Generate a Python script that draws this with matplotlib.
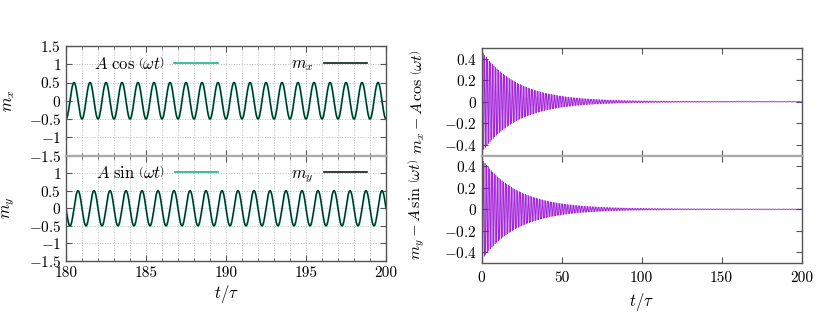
import numpy as np
import matplotlib
matplotlib.use("Agg")
import matplotlib.pyplot as plt
from matplotlib.ticker import MultipleLocator

plt.rcParams['font.family'] = 'serif'
plt.rcParams['font.serif'] = ['cmr10', 'DejaVu Serif']
plt.rcParams['mathtext.fontset'] = 'cm'
plt.rcParams['axes.formatter.use_mathtext'] = True
plt.rcParams['axes.unicode_minus'] = True

# values
amp = 0.5            # amplitude A of the driven response
period = 1.0         # period of the drive, in units of tau
phase_sign = -1.0    # m_x starts at -A at t=180
env0 = 0.47          # initial size of the transient difference
decay = 22.0         # decay time of the transient
t_zoom = [180, 200]  # left panels
t_full = [0, 200]    # right panels

left_yticks = [-1.5, -1, -0.5, 0, 0.5, 1, 1.5]
right_yticks = [-0.4, -0.2, 0, 0.2, 0.4]
left_xticks = [180, 185, 190, 195, 200]
right_xticks = [0, 50, 100, 150, 200]

teal = '#1db38a'
purple = '#9400d3'
frame = '#555555'
sep = '#aaaaaa'

w = 2 * np.pi / period
t1 = np.linspace(t_zoom[0], t_zoom[1], 4001)
ref_x = phase_sign * amp * np.cos(w * t1)
ref_y = phase_sign * amp * np.sin(w * t1)

t2 = np.linspace(t_full[0], t_full[1], 40001)
env = env0 * np.exp(-t2 / decay) + 0.004
dx = env * np.cos(w * 1.03 * t2)
dy = env * np.sin(w * 1.03 * t2)

fig = plt.figure(figsize=(8.3, 3.12), dpi=100)
W, H = 830, 312


def box(x0, y0, x1, y1):
    return [x0 / W, 1 - y1 / H, (x1 - x0) / W, (y1 - y0) / H]


axL1 = fig.add_axes(box(66, 46, 386, 155.5))
axL2 = fig.add_axes(box(66, 155.5, 386, 261))
axR1 = fig.add_axes(box(481.5, 48, 801.5, 155.5))
axR2 = fig.add_axes(box(481.5, 155.5, 801.5, 263))

for ax in (axL1, axL2, axR1, axR2):
    for s in ax.spines.values():
        s.set_color(frame)
        s.set_linewidth(1.0)
    ax.tick_params(direction='in', top=True, right=True, labelsize=11,
                   color=frame, length=4, width=0.8)
    ax.tick_params(which='minor', direction='in', top=True, right=True,
                   color=frame, length=2.5, width=0.6)

for ax in (axL1, axR1):
    ax.spines['bottom'].set_color(sep)
    ax.spines['bottom'].set_linewidth(1.6)
for ax in (axL2, axR2):
    ax.spines['top'].set_color(sep)
    ax.spines['top'].set_linewidth(1.6)

# left: m_x, m_y against the driving signal
for ax, ref, lab, fn in ((axL1, ref_x, r'$m_x$', r'$A\ \cos\,\left(\omega t\right)$'),
                         (axL2, ref_y, r'$m_y$', r'$A\ \sin\,\left(\omega t\right)$')):
    ax.plot(t1, ref, color=teal, lw=1.4, label=fn)
    ax.plot(t1, ref, color='#0c1f18', lw=0.8, label=lab)
    ax.set_xlim(t_zoom)
    ax.set_ylim(-1.5, 1.5)
    ax.set_yticks(left_yticks)
    ax.set_yticklabels(['$-1.5$', '$-1$', '$-0.5$', '$0$', '$0.5$', '$1$', '$1.5$'])
    ax.set_xticks(left_xticks)
    ax.xaxis.set_minor_locator(MultipleLocator(1))
    ax.grid(True, which='both', color='#bbbbbb', ls=':', lw=0.7)
    ax.set_axisbelow(True)
    ax.set_ylabel(lab, fontsize=12)
    ax.yaxis.set_label_coords(-0.152, 0.5)
    leg = ax.legend(ncol=2, loc='upper right', bbox_to_anchor=(0.9875, 1.05),
                    frameon=False, markerfirst=False, fontsize=12,
                    handlelength=2.6, handletextpad=0.6, columnspacing=4.4)
    for h in leg.get_lines():
        h.set_linewidth(1.2)

axL1.tick_params(labelbottom=False)
axL2.get_yticklabels()[-1].set_visible(False)
axL2.set_xticklabels([str(v) for v in left_xticks])
axL2.tick_params(axis='x', pad=4)
axL2.set_xlabel(r'$t/\tau$', fontsize=12, labelpad=2)

# right: difference between response and drive
for ax, d, lab in ((axR1, dx, r'$m_x - A\,\cos\,\left(\omega t\right)$'),
                   (axR2, dy, r'$m_y - A\,\sin\,\left(\omega t\right)$')):
    ax.plot(t2, d, color=purple, lw=0.45, alpha=0.85)
    ax.set_xlim(t_full)
    ax.set_ylim(-0.5, 0.5)
    ax.set_yticks(right_yticks)
    ax.set_yticklabels(['$-0.4$', '$-0.2$', '$0$', '$0.2$', '$0.4$'])
    ax.set_xticks(right_xticks)
    ax.set_ylabel(lab, fontsize=11.5)
    ax.yaxis.set_label_coords(-0.17, 0.5)

axR1.tick_params(labelbottom=False)
axR2.set_xticklabels([str(v) for v in right_xticks])
axR2.tick_params(axis='x', pad=6)
axR2.set_xlabel(r'$t/\tau$', fontsize=12, labelpad=4)

fig.savefig('out.png', dpi=100)
